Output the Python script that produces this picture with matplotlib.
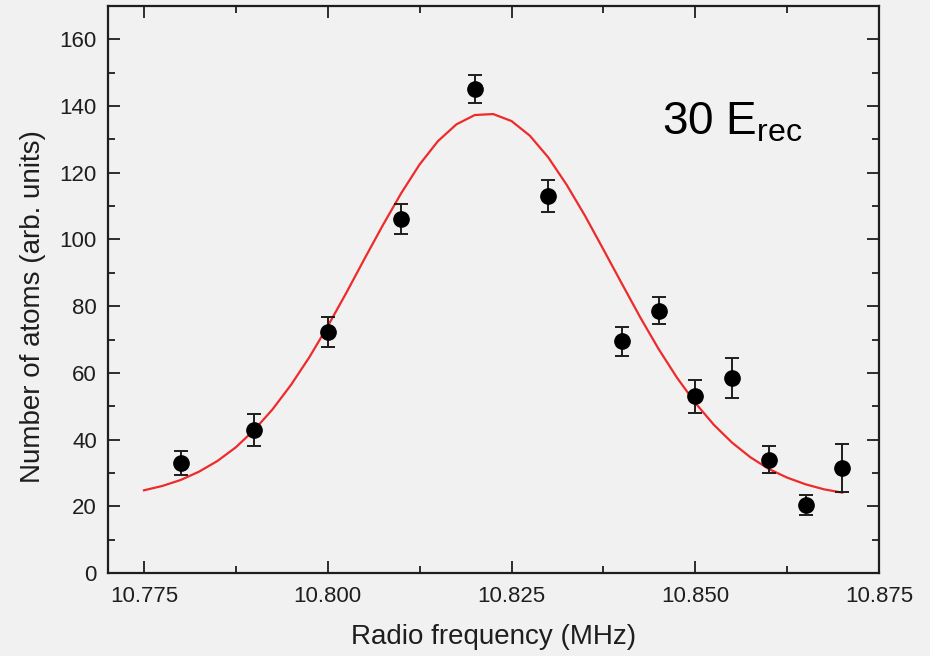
import numpy as np
import matplotlib
matplotlib.use("Agg")
import matplotlib.pyplot as plt

# DATA ###############################################################
# Measured points (radio frequency in MHz, number of atoms, error)
freq = [10.780, 10.790, 10.800, 10.810, 10.820, 10.830, 10.840,
        10.845, 10.850, 10.855, 10.860, 10.865, 10.870]
atoms = [33.0, 43.0, 72.3, 106.0, 145.0, 113.0, 69.5,
         78.6, 53.0, 58.5, 34.0, 20.5, 31.5]
atoms_err = [3.6, 4.8, 4.5, 4.5, 4.2, 4.7, 4.3,
             4.0, 5.0, 6.0, 4.0, 3.0, 7.2]

# Fit curve
fit_freq = [10.7750, 10.7775, 10.7800, 10.7825, 10.7850, 10.7875, 10.7900,
            10.7925, 10.7950, 10.7975, 10.8000, 10.8025, 10.8050, 10.8075,
            10.8100, 10.8125, 10.8150, 10.8175, 10.8200, 10.8225, 10.8250,
            10.8275, 10.8300, 10.8325, 10.8350, 10.8375, 10.8400, 10.8425,
            10.8450, 10.8475, 10.8500, 10.8525, 10.8550, 10.8575, 10.8600,
            10.8625, 10.8650, 10.8675, 10.8700]
fit_atoms = [24.8, 26.1, 27.9, 30.4, 33.6, 37.7, 42.9,
             49.1, 56.4, 64.7, 74.0, 83.9, 94.2, 104.3,
             113.9, 122.5, 129.5, 134.5, 137.3, 137.6, 135.5,
             131.1, 124.6, 116.4, 107.1, 97.0, 86.8, 76.7,
             67.2, 58.6, 51.0, 44.5, 39.1, 34.7, 31.2,
             28.6, 26.6, 25.1, 24.1]

x_ticks = [10.775, 10.800, 10.825, 10.850, 10.875]
x_tick_labels = ["10.775", "10.800", "10.825", "10.850", "10.875"]
y_ticks = [0, 20, 40, 60, 80, 100, 120, 140, 160]

# STYLE ##############################################################
plt.rcParams['font.family'] = ['Liberation Sans', 'DejaVu Sans']
plt.rcParams['mathtext.default'] = 'regular'
BG = '#f1f1f1'
INK = '#1e1e1e'

fig = plt.figure(figsize=(9.3, 6.56), dpi=100, facecolor=BG)
ax = fig.add_axes([0.1161, 0.1265, 0.8291, 0.8644], facecolor=BG)

ax.plot(fit_freq, fit_atoms, color='#ee2a2a', lw=1.6, zorder=2,
        solid_joinstyle='round')
ax.errorbar(freq, atoms, yerr=atoms_err, fmt='o', color='black', ms=11,
            ecolor=INK, elinewidth=1.4, capsize=5, capthick=1.4,
            zorder=3)

ax.set_xlim(10.7701, 10.875)
ax.set_ylim(0, 170)
ax.set_xticks(x_ticks)
ax.set_xticklabels(x_tick_labels)
ax.set_yticks(y_ticks)
ax.set_xticks(np.arange(10.7875, 10.875, 0.025), minor=True)
ax.set_yticks(np.arange(10, 170, 20), minor=True)

ax.tick_params(which='both', direction='in', top=True, right=True,
               width=1.3, colors=INK, labelsize=16)
ax.tick_params(which='major', length=8.5)
ax.tick_params(which='minor', length=5)
ax.tick_params(axis='x', pad=9)
ax.tick_params(axis='y', pad=8)
for s in ax.spines.values():
    s.set_linewidth(1.6)
    s.set_color(INK)

ax.set_xlabel('Radio frequency (MHz)', fontsize=20, color=INK)
ax.set_ylabel('Number of atoms (arb. units)', fontsize=20, color=INK)
ax.xaxis.set_label_coords(0.5, -0.09)
ax.yaxis.set_label_coords(-0.081, 0.47)

ax.text(0.7185, 0.7725, '30 E$_{rec}$', transform=ax.transAxes,
        fontsize=33, ha='left', va='baseline', color='black')

plt.savefig('out.png', dpi=100, facecolor=BG)
